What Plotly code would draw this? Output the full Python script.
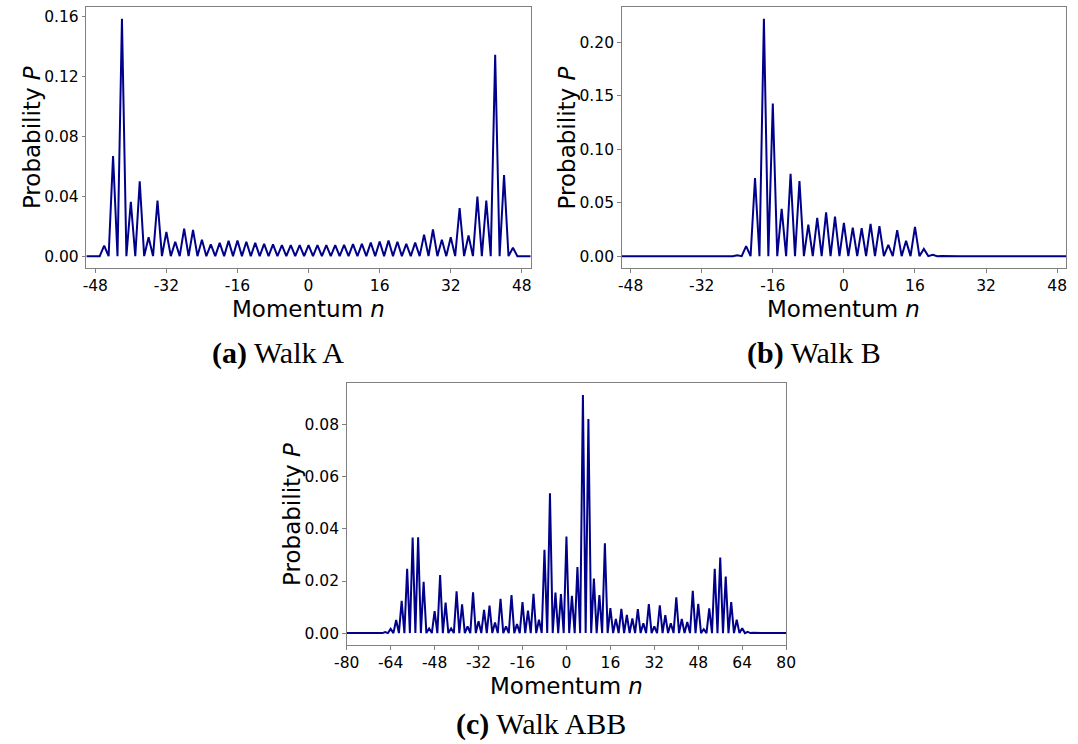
import plotly.graph_objects as go

# Momentum grids
n_ab = list(range(-50, 51))
n_abb = list(range(-80, 81))

# Walk A: probability for n = -50 ... 50
prob_a = [
    0, 0, 0.0002, 0, 0.0071, 0, 0.0670, 0, 0.1587, 0,          # -50 .. -41
    0.0364, 0, 0.0500, 0, 0.0127, 0, 0.0371, 0, 0.0162, 0,     # -40 .. -31
    0.0096, 0, 0.0184, 0, 0.0176, 0, 0.0110, 0, 0.0078, 0,     # -30 .. -21
    0.0089, 0, 0.0102, 0, 0.0104, 0, 0.0096, 0, 0.0089, 0,     # -20 .. -11
    0.0082, 0, 0.0078, 0, 0.0073, 0, 0.0073, 0, 0.0073, 0,     # -10 .. -1
    0.0073, 0, 0.0073, 0, 0.0073, 0, 0.0073, 0, 0.0076, 0,     # 0 .. 9
    0.0080, 0, 0.0082, 0, 0.0090, 0, 0.0098, 0, 0.0104, 0,     # 10 .. 19
    0.0096, 0, 0.0082, 0, 0.0090, 0, 0.0144, 0, 0.0178, 0,     # 20 .. 29
    0.0109, 0, 0.0127, 0, 0.0322, 0, 0.0138, 0, 0.0398, 0,     # 30 .. 39
    0.0371, 0, 0.1347, 0, 0.0542, 0, 0.0056, 0, 0, 0,          # 40 .. 49
    0,                                                         # 50
]

# Walk B: probability for n = -50 ... 50
prob_b = [
    0, 0, 0, 0, 0, 0, 0, 0, 0, 0,                              # -50 .. -41
    0, 0, 0, 0, 0, 0, 0, 0, 0, 0,                              # -40 .. -31
    0, 0, 0, 0, 0, 0, 0.0008, 0, 0.0093, 0,                    # -30 .. -21
    0.0731, 0, 0.2220, 0, 0.1428, 0, 0.0442, 0, 0.0771, 0,     # -20 .. -11
    0.0703, 0, 0.0295, 0, 0.0358, 0, 0.0410, 0, 0.0370, 0,     # -10 .. -1
    0.0310, 0, 0.0267, 0, 0.0261, 0, 0.0302, 0, 0.0280, 0,     # 0 .. 9
    0.0106, 0, 0.0243, 0, 0.0143, 0, 0.0274, 0, 0.0068, 0,     # 10 .. 19
    0.0012, 0, 0.0002, 0, 0, 0, 0, 0, 0, 0,                    # 20 .. 29
    0, 0, 0, 0, 0, 0, 0, 0, 0, 0,                              # 30 .. 39
    0, 0, 0, 0, 0, 0, 0, 0, 0, 0,                              # 40 .. 49
    0,                                                         # 50
]

# Walk ABB: probability for n = -80 ... 80
prob_abb = [
    0, 0, 0, 0, 0, 0, 0, 0, 0, 0,                              # -80 .. -71
    0, 0, 0.0001, 0, 0.0004, 0, 0.0016, 0, 0.0050, 0,          # -70 .. -61
    0.0124, 0, 0.0247, 0, 0.0367, 0, 0.0368, 0, 0.0197, 0,     # -60 .. -51
    0.0018, 0, 0.0084, 0, 0.0223, 0, 0.0117, 0, 0.0018, 0,     # -50 .. -41
    0.0160, 0, 0.0110, 0, 0.0026, 0, 0.0157, 0, 0.0046, 0,     # -40 .. -31
    0.0089, 0, 0.0106, 0, 0.0041, 0, 0.0132, 0, 0.0026, 0,     # -30 .. -21
    0.0146, 0, 0.0035, 0, 0.0119, 0, 0.0086, 0, 0.0151, 0,     # -20 .. -11
    0.0051, 0, 0.0320, 0, 0.0537, 0, 0.0156, 0, 0.0150, 0,     # -10 .. -1
    0.0371, 0, 0.0143, 0, 0.0254, 0, 0.0915, 0, 0.0822, 0,     # 0 .. 9
    0.0210, 0, 0.0146, 0, 0.0345, 0, 0.0096, 0, 0.0054, 0,     # 10 .. 19
    0.0093, 0, 0.0070, 0, 0.0056, 0, 0.0092, 0, 0.0038, 0,     # 20 .. 29
    0.0111, 0, 0.0026, 0, 0.0107, 0, 0.0069, 0, 0.0038, 0,     # 30 .. 39
    0.0137, 0, 0.0054, 0, 0.0043, 0, 0.0162, 0, 0.0112, 0,     # 40 .. 49
    0.0015, 0, 0.0095, 0, 0.0247, 0, 0.0290, 0, 0.0217, 0,     # 50 .. 59
    0.0119, 0, 0.0051, 0, 0.0019, 0, 0.0005, 0, 0.0001, 0,     # 60 .. 69
    0, 0, 0, 0, 0, 0, 0, 0, 0, 0,                              # 70 .. 79
    0,                                                         # 80
]

# Tick positions / labels
xticks_ab = [-48, -32, -16, 0, 16, 32, 48]
xticks_abb = [-80, -64, -48, -32, -16, 0, 16, 32, 48, 64, 80]
yticks_a = [0.0, 0.04, 0.08, 0.12, 0.16]
yticks_b = [0.0, 0.05, 0.10, 0.15, 0.20]
yticks_abb = [0.0, 0.02, 0.04, 0.06, 0.08]

captions = ["Walk A", "Walk B", "Walk ABB"]
caption_tags = ["(a)", "(b)", "(c)"]

W, H = 1078, 744
LINE = "#00008B"
SPINE = "#808080"
TICK_FONT = dict(family="DejaVu Sans", size=15.5, color="black")
TITLE_FONT = dict(family="DejaVu Sans", size=23, color="black")
CAP_FONT = dict(family="Liberation Serif", size=30, color="black")


def px_x(x):
    return x / W


def px_y(y):
    return 1 - y / H


# plot frames in pixels: (left, right, top, bottom)
frames = [(75, 529, 7, 268), (622, 1076, 7, 268), (341, 790, 383, 645)]

series = [
    (n_ab, prob_a, xticks_ab, yticks_a, [-50, 50]),
    (n_ab, prob_b, xticks_ab, yticks_b, [-50, 50]),
    (n_abb, prob_abb, xticks_abb, yticks_abb, [-80, 80]),
]

fig = go.Figure()
layout = dict(
    width=W, height=H,
    margin=dict(l=0, r=0, t=0, b=0),
    paper_bgcolor="white", plot_bgcolor="white",
    showlegend=False,
    annotations=[],
)

for i, ((n, p, xt, yt, xr), (l, r, t, b)) in enumerate(zip(series, frames)):
    sfx = "" if i == 0 else str(i + 1)
    fig.add_trace(go.Scatter(
        x=n, y=p, mode="lines",
        line=dict(color=LINE, width=2),
        xaxis="x" + sfx, yaxis="y" + sfx,
        hoverinfo="skip",
    ))
    pmax = max(p)
    yr = [-0.05 * pmax, 1.05 * pmax]
    common = dict(
        showline=True, linecolor=SPINE, linewidth=1.2, mirror=True,
        showgrid=False, zeroline=False,
        ticks="outside", ticklen=3.5, tickwidth=1, tickcolor=SPINE,
        tickfont=TICK_FONT,
    )
    layout["xaxis" + sfx] = dict(
        domain=[px_x(l), px_x(r)], anchor="y" + sfx, range=xr,
        tickvals=xt, ticktext=[str(v) for v in xt], **common,
    )
    layout["yaxis" + sfx] = dict(
        domain=[px_y(b), px_y(t)], anchor="x" + sfx, range=yr,
        tickvals=yt, ticktext=["%.2f" % v for v in yt], **common,
    )
    # axis titles
    layout["annotations"].append(dict(
        text="Momentum <i>n</i>", x=px_x((l + r) / 2), y=px_y(b + 41),
        xref="paper", yref="paper", showarrow=False, font=TITLE_FONT,
        xanchor="center", yanchor="middle", borderpad=0,
    ))
    layout["annotations"].append(dict(
        text="Probability <i>P</i>", x=px_x(l - 56), y=px_y((t + b) / 2),
        xref="paper", yref="paper", showarrow=False, font=TITLE_FONT,
        textangle=-90, xanchor="center", yanchor="middle", borderpad=0,
    ))

# sub-figure captions
cap_pos = [(271, 353), (818, 353), (539, 724)]
for tag, cap, (cx, cy) in zip(caption_tags, captions, cap_pos):
    layout["annotations"].append(dict(
        text="<b>%s</b> %s" % (tag, cap), x=px_x(cx), y=px_y(cy),
        xref="paper", yref="paper", showarrow=False, font=CAP_FONT,
        xanchor="center", yanchor="middle", borderpad=0,
    ))

fig.update_layout(**layout)
fig.write_html("out.html")
